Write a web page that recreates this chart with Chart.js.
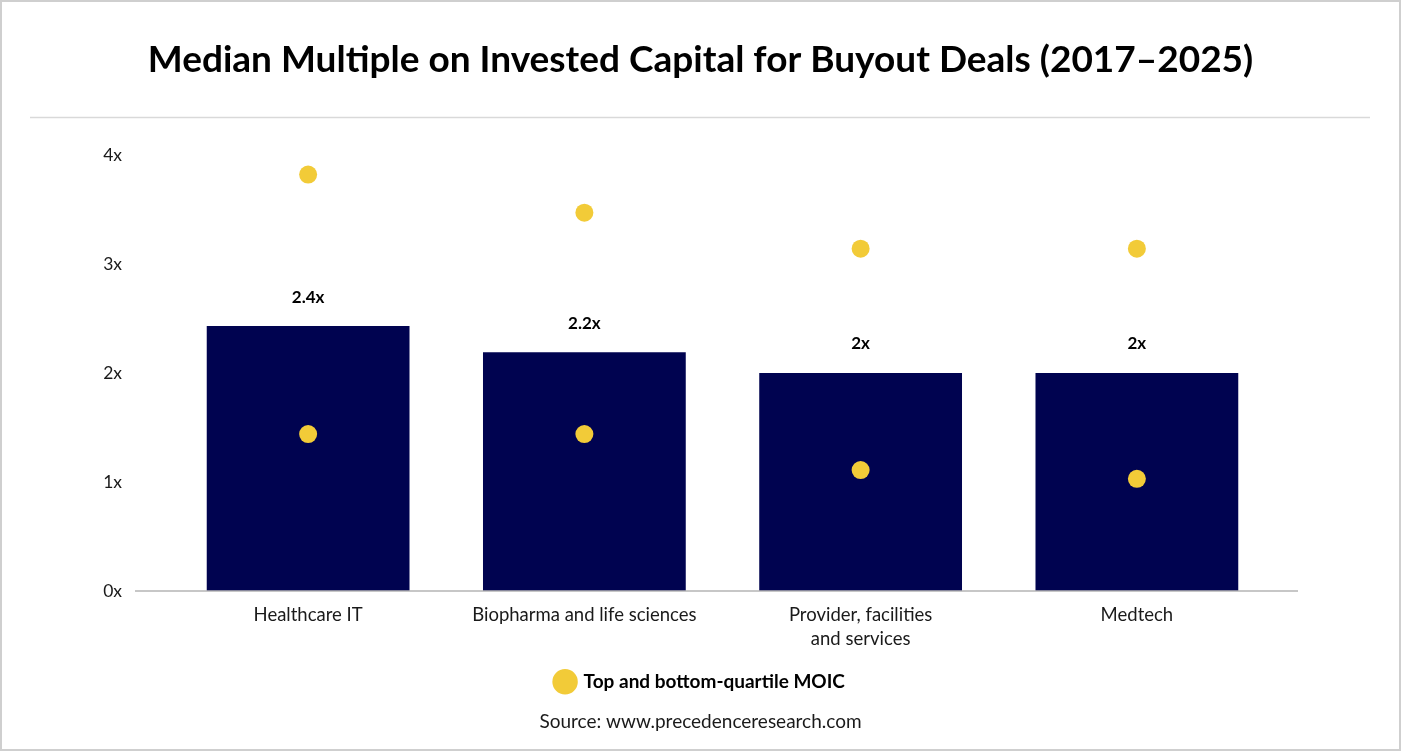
<!DOCTYPE html>
<html>
<head>
<meta charset="utf-8">
<script src="https://cdn.jsdelivr.net/npm/chart.js@4.4.1/dist/chart.umd.min.js"></script>
<style>
  html, body { margin: 0; padding: 0; background: #fff; }
  #wrap { width: 1401px; height: 751px; position: relative; }
</style>
</head>
<body>
<div id="wrap"><canvas id="c" width="1401" height="751"></canvas></div>
<script>
const categories = ["Healthcare IT", "Biopharma and life sciences", ["Provider, facilities", "and services"], "Medtech"];
const medianMOIC = [2.43, 2.19, 2.0, 2.0];
const topQuartile = [3.82, 3.47, 3.14, 3.14];
const bottomQuartile = [1.44, 1.44, 1.11, 1.03];
const yTicks = [0, 1, 2, 3, 4];
const titleText = "Median Multiple on Invested Capital for Buyout Deals (2017\u20132025)";
const legendText = "Top and bottom-quartile MOIC";
const sourceText = "Source: www.precedenceresearch.com";

const NAVY = "#000350";
const YELLOW = "#F2CB38";
const FONT = "Lato, 'Open Sans', sans-serif";

const decor = {
  id: "decor",
  beforeDraw(chart) {
    const { ctx, width, height } = chart;
    ctx.save();
    ctx.fillStyle = "#fff";
    ctx.fillRect(0, 0, width, height);
    ctx.strokeStyle = "#cfcfcf";
    ctx.lineWidth = 2;
    ctx.strokeRect(1, 1, width - 2, height - 2);
    ctx.strokeStyle = "#d9d9d9";
    ctx.lineWidth = 1.5;
    ctx.beginPath();
    ctx.moveTo(30, 117.5);
    ctx.lineTo(1370, 117.5);
    ctx.stroke();
    ctx.restore();
  },
  afterDatasetsDraw(chart) {
    const { ctx } = chart;
    const y0 = chart.scales.y.getPixelForValue(0);
    ctx.save();
    ctx.strokeStyle = "#b4b4b4";
    ctx.lineWidth = 1.5;
    ctx.beginPath();
    ctx.moveTo(135, y0);
    ctx.lineTo(1298, y0);
    ctx.stroke();
    // bar value labels
    const meta = chart.getDatasetMeta(2);
    ctx.fillStyle = "#000";
    ctx.font = "bold 17px " + FONT;
    ctx.textAlign = "center";
    ctx.textBaseline = "middle";
    meta.data.forEach((bar, i) => {
      const v = medianMOIC[i];
      ctx.fillText(Number(v.toFixed(1)) + "x", bar.x, bar.y - 29);
    });
    ctx.restore();
  }
};

new Chart(document.getElementById("c"), {
  data: {
    labels: categories,
    datasets: [
      {
        type: "line",
        label: legendText,
        data: topQuartile,
        showLine: false,
        pointRadius: 9,
        pointHoverRadius: 9,
        pointBackgroundColor: YELLOW,
        pointBorderWidth: 0,
        borderColor: YELLOW,
        backgroundColor: YELLOW,
        order: 0
      },
      {
        type: "line",
        label: "bottom",
        data: bottomQuartile,
        showLine: false,
        pointRadius: 9,
        pointHoverRadius: 9,
        pointBackgroundColor: YELLOW,
        pointBorderWidth: 0,
        borderColor: YELLOW,
        backgroundColor: YELLOW,
        order: 0
      },
      {
        type: "bar",
        label: "Median MOIC",
        data: medianMOIC,
        backgroundColor: NAVY,
        borderWidth: 0,
        barPercentage: 0.734,
        categoryPercentage: 1.0,
        order: 1
      }
    ]
  },
  options: {
    responsive: false,
    animation: false,
    devicePixelRatio: 1,
    layout: { padding: 0 },
    scales: {
      x: {
        type: "category",
        grid: { display: false, drawTicks: false },
        border: { display: false },
        ticks: {
          color: "#1a1a1a",
          font: { family: FONT, size: 18.5, lineHeight: 1.3 },
          padding: 12,
          maxRotation: 0,
          autoSkip: false
        }
      },
      y: {
        min: 0,
        max: 4,
        afterBuildTicks(scale) { scale.ticks = yTicks.map(v => ({ value: v })); },
        afterFit(scale) { scale.width = 170; },
        grid: { display: false, drawTicks: false },
        border: { display: false },
        ticks: {
          color: "#1a1a1a",
          font: { family: FONT, size: 17.5 },
          padding: 48,
          callback: v => v + "x"
        }
      },
      yRight: {
        type: "linear",
        position: "right",
        min: 0,
        max: 4,
        afterFit(scale) { scale.width = 126; },
        grid: { display: false, drawTicks: false },
        border: { display: false },
        ticks: { display: false }
      }
    },
    plugins: {
      tooltip: { enabled: false },
      title: {
        display: true,
        text: titleText,
        color: "#000",
        font: { family: FONT, size: 37, weight: "bold" },
        padding: { top: 38, bottom: 72.5 }
      },
      subtitle: {
        display: true,
        position: "bottom",
        text: sourceText,
        color: "#1a1a1a",
        font: { family: FONT, size: 19 },
        padding: { top: 9, bottom: 18 }
      },
      legend: {
        display: true,
        position: "bottom",
        labels: {
          filter: item => item.datasetIndex === 0,
          usePointStyle: true,
          pointStyle: "circle",
          boxWidth: 18,
          boxHeight: 18,
          color: "#000",
          font: { family: FONT, size: 19, weight: "bold" },
          padding: 9
        }
      }
    }
  },
  plugins: [decor]
});
</script>
</body>
</html>
